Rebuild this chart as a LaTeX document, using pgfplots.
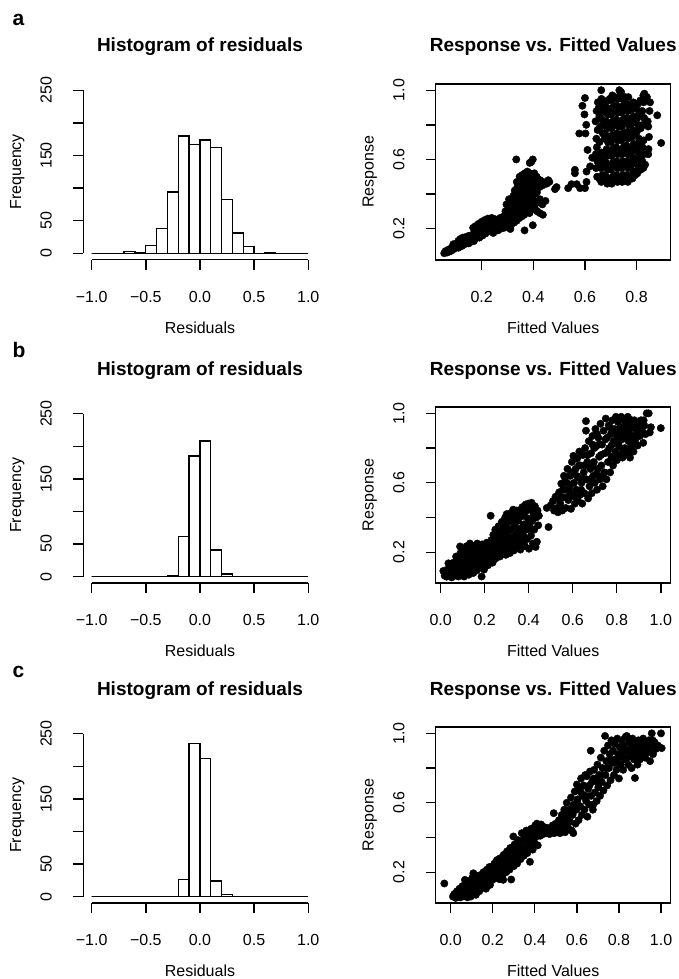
\documentclass[border=0pt]{standalone}
\usepackage{graphicx}
\usepackage{pgfplots}
\pgfplotsset{compat=1.18}
\usepackage{fontspec}
\setmainfont{Liberation Sans}

\newcommand{\up}[1]{\rotatebox{90}{#1}}

\pgfplotsset{
  rbase/.style={
    scale only axis, anchor=south west,
    tick align=outside, major tick length=10pt,
    every tick/.style={black, line width=1.4pt},
    xtick pos=bottom, ytick pos=left,
    /pgf/number format/assume math mode=true,
    tick label style={font=\fontsize{16}{19}\selectfont},
    xticklabel style={anchor=north, inner sep=0pt, yshift=-21pt},
    yticklabel style={anchor=east, inner sep=0pt, xshift=-21pt},
    every axis title/.style={at={(axis description cs:0.5,1)}, anchor=base,
      yshift=32pt, font=\bfseries\fontsize{19}{23}\selectfont},
    every axis x label/.style={at={(axis description cs:0.5,0)}, anchor=base,
      yshift=-73.7pt, font=\fontsize{16}{19}\selectfont},
    every axis y label/.style={at={(axis description cs:#1,0.5)}, rotate=90,
      anchor=base, font=\fontsize{16}{19}\selectfont},
  },
  histax/.style={
    rbase=-0.265,
    width=233.9pt, height=176pt,
    xmin=-1.08, xmax=1.08, ymin=-10, ymax=260,
    axis line style={draw=none},
    xtick={-1,-0.5,0,0.5,1},
    xticklabels={−1.0,−0.5,0.0,0.5,1.0},
    ytick={0,50,100,150,200,250},
    yticklabels={\up{0},\up{50},{},\up{150},{},\up{250}},
    title={Histogram of residuals},
    xlabel={Residuals}, ylabel={Frequency},
  },
  scatax/.style={
    rbase=-0.2638,
    width=235pt, height=176pt,
    axis line style={line width=1.4pt},
    ytick={0.2,0.4,0.6,0.8,1.0},
    yticklabels={\up{0.2},{},\up{0.6},{},\up{1.0}},
    title={Response vs. Fitted Values},
    xlabel={Fitted Values}, ylabel={Response},
  },
  bars/.style={ybar interval, fill=white, draw=black, line width=1.3pt},
  dots/.style={only marks, mark=*, mark size=3.7pt, black,
    mark options={line width=0.4pt, fill=black}},
}

\newcommand{\rlines}{%
  \draw[line width=1.4pt] (axis cs:-1,-10) -- (axis cs:1,-10);
  \draw[line width=1.4pt] (axis cs:-1.08,0) -- (axis cs:-1.08,250);}

\begin{document}
\begin{tikzpicture}
\path[use as bounding box] (0pt,0pt) rectangle (679pt,-979pt);

% panel letters
\node[anchor=base west, inner sep=0pt, font=\bfseries\fontsize{21}{25}\selectfont] at (12.5pt,-25.5pt) {a};
\node[anchor=base west, inner sep=0pt, font=\bfseries\fontsize{21}{25}\selectfont] at (12.5pt,-357pt) {b};
\node[anchor=base west, inner sep=0pt, font=\bfseries\fontsize{21}{25}\selectfont] at (12.5pt,-677pt) {c};

% ---------------- row a ----------------
\begin{axis}[histax, at={(83pt,-259.8pt)}]
\addplot[bars] coordinates {
(-1.0,0) (-0.9,0) (-0.8,0) (-0.7,3) (-0.6,1) (-0.5,12) (-0.4,38) (-0.3,94)
(-0.2,180) (-0.1,167) (0.0,174) (0.1,162) (0.2,82) (0.3,31) (0.4,10)
(0.5,0) (0.6,1) (0.7,0) (0.8,0) (0.9,0) (1.0,0)};
\rlines
\end{axis}

\begin{axis}[scatax, at={(435.7pt,-259.8pt)},
  xmin=0.022, xmax=0.932, ymin=0.02, ymax=1.037,
  xtick={0.2,0.4,0.6,0.8}, xticklabels={0.2,0.4,0.6,0.8}]
\addplot[dots] coordinates {
(0.055,0.058)(0.060,0.070)(0.066,0.062)(0.070,0.078)(0.076,0.068)(0.080,0.085)(0.084,0.074)(0.088,0.095)
(0.092,0.082)(0.096,0.104)(0.100,0.090)(0.104,0.115)(0.106,0.098)(0.110,0.130)(0.113,0.108)(0.117,0.140)
(0.120,0.118)(0.124,0.100)(0.127,0.148)(0.130,0.126)(0.134,0.110)(0.138,0.152)(0.141,0.132)(0.145,0.118)
(0.149,0.158)(0.152,0.138)(0.156,0.122)(0.160,0.162)(0.163,0.145)(0.167,0.205)(0.170,0.128)(0.172,0.180)
(0.176,0.215)(0.178,0.155)(0.182,0.195)(0.185,0.170)(0.188,0.228)(0.191,0.148)(0.194,0.205)(0.197,0.180)
(0.200,0.240)(0.203,0.160)(0.206,0.218)(0.209,0.195)(0.212,0.250)(0.215,0.172)(0.218,0.232)(0.221,0.205)
(0.224,0.258)(0.227,0.185)(0.230,0.222)(0.233,0.245)(0.236,0.198)(0.239,0.262)(0.242,0.215)(0.245,0.175)
(0.248,0.235)(0.251,0.255)(0.254,0.200)(0.257,0.225)(0.260,0.248)(0.263,0.190)(0.266,0.238)(0.269,0.212)
(0.272,0.262)(0.275,0.200)(0.278,0.245)(0.281,0.225)(0.284,0.270)(0.287,0.205)(0.290,0.255)(0.293,0.232)
(0.296,0.285)(0.299,0.215)(0.302,0.262)(0.305,0.240)(0.308,0.300)(0.311,0.198)(0.314,0.275)(0.317,0.250)
(0.090,0.110)(0.110,0.090)(0.130,0.145)(0.150,0.115)(0.170,0.150)(0.190,0.170)(0.210,0.225)(0.230,0.200)
(0.250,0.230)(0.270,0.235)(0.290,0.220)(0.310,0.230)(0.200,0.200)(0.240,0.240)(0.280,0.250)
(0.292,0.300)(0.296,0.340)(0.302,0.310)(0.306,0.370)(0.300,0.280)
(0.315,0.225)(0.316,0.290)(0.318,0.330)(0.314,0.360)
(0.325,0.235)(0.326,0.270)(0.324,0.310)(0.327,0.350)(0.323,0.390)(0.328,0.420)
(0.335,0.245)(0.336,0.280)(0.334,0.320)(0.337,0.360)(0.333,0.400)(0.338,0.440)(0.336,0.470)(0.334,0.600)
(0.345,0.260)(0.344,0.300)(0.347,0.340)(0.343,0.380)(0.346,0.420)(0.344,0.460)(0.347,0.500)
(0.355,0.270)(0.354,0.310)(0.357,0.350)(0.353,0.390)(0.356,0.430)(0.354,0.470)(0.357,0.510)
(0.366,0.190)(0.365,0.280)(0.364,0.320)(0.367,0.360)(0.363,0.400)(0.366,0.440)(0.364,0.480)(0.367,0.520)
(0.375,0.300)(0.374,0.340)(0.377,0.380)(0.373,0.420)(0.376,0.460)(0.374,0.500)(0.377,0.530)
(0.386,0.580)(0.385,0.290)(0.384,0.330)(0.387,0.370)(0.383,0.410)(0.386,0.450)(0.384,0.490)(0.387,0.520)
(0.398,0.600)(0.398,0.220)(0.395,0.310)(0.394,0.350)(0.397,0.390)(0.393,0.430)(0.396,0.470)(0.394,0.510)(0.392,0.585)
(0.405,0.320)(0.404,0.360)(0.407,0.400)(0.403,0.440)(0.406,0.480)(0.404,0.520)
(0.415,0.300)(0.416,0.350)(0.414,0.410)(0.417,0.460)(0.413,0.500)
(0.425,0.290)(0.426,0.370)(0.424,0.440)(0.427,0.480)
(0.437,0.280)(0.435,0.340)(0.436,0.450)(0.438,0.470)
(0.447,0.360)(0.452,0.460)(0.458,0.480)(0.462,0.470)
(0.484,0.428)(0.490,0.440)(0.535,0.434)(0.548,0.457)(0.568,0.457)(0.581,0.434)(0.600,0.434)
(0.561,0.540)(0.561,0.520)(0.606,0.530)(0.606,0.470)
(0.590,0.910)(0.600,0.955)(0.598,0.860)(0.605,0.800)(0.578,0.750)(0.602,0.750)(0.610,0.655)(0.620,0.560)(0.628,0.610)
(0.647,0.500)(0.643,0.550)(0.648,0.590)(0.642,0.630)(0.646,0.670)(0.644,0.720)(0.649,0.770)(0.641,0.820)(0.645,0.880)(0.650,0.930)
(0.663,0.470)(0.668,0.510)(0.662,0.550)(0.667,0.600)(0.664,0.640)(0.669,0.750)(0.661,0.790)(0.666,0.830)(0.663,0.870)(0.668,0.910)(0.664,0.950)(0.663,1.000)
(0.686,0.460)(0.683,0.500)(0.688,0.540)(0.682,0.580)(0.687,0.620)(0.684,0.660)(0.689,0.700)(0.681,0.740)(0.686,0.780)(0.683,0.820)(0.688,0.860)(0.684,0.900)(0.687,0.940)
(0.704,0.460)(0.708,0.500)(0.702,0.540)(0.707,0.580)(0.703,0.620)(0.709,0.660)(0.701,0.700)(0.706,0.740)(0.703,0.780)(0.708,0.820)(0.702,0.860)(0.707,0.900)(0.704,0.940)(0.706,0.970)
(0.726,0.470)(0.722,0.510)(0.728,0.550)(0.723,0.590)(0.727,0.630)(0.721,0.670)(0.726,0.710)(0.724,0.750)(0.729,0.790)(0.722,0.830)(0.727,0.870)(0.723,0.910)(0.728,0.950)(0.733,1.000)
(0.744,0.470)(0.748,0.510)(0.742,0.550)(0.747,0.590)(0.743,0.630)(0.749,0.670)(0.741,0.710)(0.746,0.750)(0.743,0.790)(0.748,0.830)(0.742,0.870)(0.747,0.910)(0.744,0.950)(0.740,0.990)
(0.766,0.470)(0.762,0.510)(0.768,0.550)(0.763,0.590)(0.767,0.630)(0.761,0.680)(0.766,0.720)(0.764,0.760)(0.769,0.800)(0.762,0.840)(0.767,0.880)(0.763,0.920)(0.768,0.960)
(0.784,0.490)(0.788,0.530)(0.782,0.570)(0.787,0.610)(0.783,0.650)(0.789,0.690)(0.781,0.730)(0.786,0.770)(0.783,0.810)(0.788,0.850)(0.782,0.890)(0.787,0.930)
(0.803,0.520)(0.808,0.560)(0.802,0.600)(0.807,0.640)(0.804,0.680)(0.809,0.720)(0.801,0.760)(0.806,0.800)(0.803,0.840)(0.808,0.880)(0.804,0.920)
(0.826,0.550)(0.822,0.590)(0.828,0.630)(0.823,0.670)(0.827,0.710)(0.824,0.800)(0.829,0.840)(0.822,0.880)(0.827,0.930)(0.826,0.970)
(0.845,0.630)(0.848,0.730)(0.845,0.790)(0.843,0.820)(0.850,0.880)(0.852,0.930)(0.840,0.960)(0.895,0.695)(0.880,0.855)
(0.833,0.570)(0.798,0.530)(0.772,0.500)(0.830,0.980)(0.846,0.660)
(0.655,0.490)(0.655,0.570)(0.655,0.620)(0.656,0.700)(0.655,0.780)(0.656,0.850)(0.654,0.900)
(0.675,0.480)(0.676,0.560)(0.674,0.640)(0.676,0.720)(0.675,0.800)(0.674,0.880)(0.676,0.930)
(0.695,0.480)(0.696,0.560)(0.694,0.640)(0.696,0.720)(0.695,0.800)(0.694,0.880)(0.696,0.950)
(0.715,0.490)(0.716,0.570)(0.714,0.650)(0.716,0.730)(0.715,0.810)(0.714,0.890)(0.716,0.960)
(0.735,0.490)(0.736,0.570)(0.734,0.650)(0.736,0.730)(0.735,0.810)(0.734,0.890)(0.736,0.970)
(0.755,0.490)(0.756,0.570)(0.754,0.650)(0.756,0.740)(0.755,0.820)(0.754,0.900)(0.756,0.960)
(0.775,0.490)(0.776,0.580)(0.774,0.660)(0.776,0.740)(0.775,0.830)(0.774,0.910)
(0.795,0.510)(0.796,0.590)(0.794,0.670)(0.796,0.750)(0.795,0.830)(0.794,0.900)
(0.815,0.540)(0.816,0.620)(0.814,0.700)(0.816,0.780)(0.815,0.860)(0.814,0.940)};
\end{axis}

% ---------------- row b ----------------
\begin{axis}[histax, at={(83pt,-583.1pt)}]
\addplot[bars] coordinates {
(-1.0,0) (-0.9,0) (-0.8,0) (-0.7,0) (-0.6,0) (-0.5,0) (-0.4,0) (-0.3,1)
(-0.2,61) (-0.1,185) (0.0,208) (0.1,41) (0.2,4) (0.3,0) (0.4,0)
(0.5,0) (0.6,0) (0.7,0) (0.8,0) (0.9,0) (1.0,0)};
\rlines
\end{axis}

\begin{axis}[scatax, at={(435.7pt,-583.1pt)},
  xmin=-0.0227, xmax=1.045, ymin=0.022, ymax=1.036,
  xtick={0,0.2,0.4,0.6,0.8,1.0}, xticklabels={0.0,0.2,0.4,0.6,0.8,1.0}]
\addplot[dots] coordinates {
(0.012,0.092)(0.018,0.065)(0.027,0.059)(0.030,0.100)(0.035,0.136)(0.042,0.075)(0.046,0.112)(0.050,0.055)
(0.055,0.090)(0.058,0.140)(0.063,0.065)(0.066,0.118)(0.070,0.175)(0.074,0.092)(0.078,0.150)(0.080,0.060)
(0.084,0.125)(0.088,0.233)(0.090,0.195)(0.093,0.085)(0.097,0.160)(0.100,0.110)(0.103,0.215)(0.106,0.060)
(0.109,0.140)(0.112,0.182)(0.115,0.095)(0.118,0.235)(0.121,0.125)(0.124,0.200)(0.127,0.070)(0.130,0.165)
(0.133,0.250)(0.136,0.105)(0.139,0.220)(0.142,0.140)(0.145,0.185)(0.148,0.080)(0.151,0.235)(0.154,0.120)
(0.157,0.160)(0.160,0.205)(0.163,0.095)(0.166,0.250)(0.169,0.140)(0.172,0.180)(0.175,0.225)(0.178,0.110)
(0.182,0.160)(0.186,0.060)(0.188,0.245)(0.191,0.200)(0.194,0.130)(0.197,0.100)(0.200,0.175)(0.203,0.230)
(0.206,0.150)(0.209,0.255)(0.212,0.205)(0.215,0.125)(0.218,0.180)(0.221,0.240)(0.224,0.160)(0.227,0.410)
(0.230,0.270)(0.233,0.210)(0.236,0.140)(0.239,0.300)(0.242,0.185)(0.245,0.250)(0.248,0.330)(0.251,0.165)
(0.254,0.225)(0.257,0.285)(0.260,0.195)(0.263,0.350)(0.266,0.260)(0.269,0.175)(0.272,0.310)(0.275,0.230)
(0.278,0.375)(0.281,0.200)(0.284,0.280)(0.287,0.340)(0.290,0.250)(0.293,0.400)(0.296,0.185)(0.299,0.305)
(0.302,0.220)(0.305,0.370)(0.308,0.270)(0.311,0.420)(0.314,0.195)(0.317,0.330)(0.320,0.240)(0.323,0.395)
(0.326,0.290)(0.329,0.445)(0.332,0.210)(0.335,0.350)(0.338,0.260)(0.341,0.415)(0.344,0.310)(0.347,0.230)
(0.350,0.380)(0.353,0.440)(0.356,0.280)(0.359,0.335)(0.362,0.215)(0.365,0.405)(0.368,0.255)(0.371,0.460)
(0.374,0.300)(0.377,0.360)(0.380,0.430)(0.383,0.235)(0.386,0.475)(0.389,0.330)(0.392,0.275)(0.395,0.395)
(0.398,0.480)(0.401,0.220)(0.404,0.350)(0.407,0.445)(0.410,0.295)(0.413,0.485)(0.416,0.380)(0.419,0.250)
(0.422,0.420)(0.425,0.330)(0.428,0.465)(0.431,0.230)(0.434,0.400)(0.437,0.260)(0.440,0.440)(0.443,0.355)
(0.446,0.410)
(0.060,0.105)(0.075,0.130)(0.095,0.180)(0.110,0.085)(0.125,0.150)(0.140,0.195)(0.150,0.110)(0.165,0.175)
(0.180,0.215)(0.195,0.155)(0.210,0.230)(0.222,0.190)(0.240,0.220)(0.255,0.270)(0.268,0.215)(0.280,0.300)
(0.292,0.260)(0.305,0.330)(0.318,0.280)(0.330,0.380)(0.342,0.240)(0.355,0.400)(0.366,0.330)(0.378,0.280)
(0.390,0.440)(0.402,0.380)(0.415,0.330)(0.428,0.400)(0.300,0.420)(0.370,0.230)(0.345,0.440)(0.260,0.320)
(0.490,0.345)(0.482,0.455)(0.500,0.470)(0.510,0.495)(0.515,0.440)(0.522,0.520)(0.528,0.455)(0.533,0.430)
(0.538,0.545)(0.543,0.480)(0.548,0.595)(0.552,0.440)(0.556,0.515)(0.560,0.640)(0.564,0.560)(0.568,0.455)
(0.572,0.600)(0.576,0.680)(0.580,0.500)(0.584,0.560)(0.588,0.640)(0.592,0.450)(0.596,0.720)(0.600,0.530)
(0.603,0.755)(0.606,0.600)(0.610,0.480)(0.613,0.680)(0.616,0.560)(0.620,0.740)(0.623,0.500)(0.626,0.630)
(0.630,0.780)(0.633,0.530)(0.636,0.700)(0.640,0.600)(0.643,0.480)(0.646,0.760)(0.650,0.660)(0.653,0.540)
(0.656,0.800)(0.660,0.955)(0.660,0.900)(0.663,0.620)(0.666,0.720)(0.670,0.510)(0.673,0.840)(0.676,0.580)
(0.680,0.680)(0.683,0.770)(0.686,0.540)(0.690,0.870)(0.693,0.640)(0.696,0.720)(0.700,0.600)(0.703,0.910)
(0.706,0.810)(0.710,0.560)(0.713,0.680)(0.716,0.860)(0.720,0.750)(0.723,0.620)(0.726,0.940)(0.730,0.700)
(0.733,0.820)(0.736,0.580)(0.740,0.900)(0.743,0.660)(0.746,0.770)(0.750,0.970)(0.753,0.620)(0.756,0.860)
(0.760,0.720)(0.763,0.930)(0.766,0.800)(0.770,0.660)(0.773,0.880)(0.776,0.750)(0.780,0.960)(0.783,0.700)
(0.786,0.840)(0.790,0.910)(0.793,0.780)(0.796,0.980)(0.800,0.730)(0.803,0.870)(0.806,0.950)(0.810,0.810)
(0.813,0.760)(0.816,0.920)(0.820,0.980)(0.823,0.850)(0.826,0.745)(0.830,0.900)(0.833,0.960)(0.836,0.800)
(0.840,0.870)(0.843,0.930)(0.846,0.770)(0.850,0.980)(0.853,0.840)(0.856,0.900)(0.860,0.745)(0.863,0.950)
(0.866,0.810)(0.870,0.870)(0.873,0.920)(0.876,0.780)(0.880,0.960)(0.885,0.850)(0.890,0.900)(0.895,0.815)
(0.900,0.940)(0.905,0.870)(0.910,0.960)(0.915,0.900)(0.920,0.830)(0.925,0.930)(0.930,0.880)(0.936,1.000)
(0.945,1.000)(0.950,0.890)(0.955,0.920)(1.000,0.915)
(0.540,0.500)(0.555,0.560)(0.565,0.610)(0.578,0.520)(0.590,0.590)(0.598,0.660)(0.608,0.520)(0.618,0.640)
(0.628,0.700)(0.638,0.560)(0.648,0.620)(0.658,0.700)(0.668,0.760)(0.678,0.620)(0.688,0.700)(0.698,0.800)
(0.708,0.650)(0.718,0.820)(0.728,0.760)(0.738,0.640)(0.748,0.850)(0.758,0.780)(0.768,0.920)(0.778,0.820)
(0.788,0.740)(0.798,0.900)(0.808,0.830)(0.818,0.880)(0.828,0.790)(0.838,0.930)(0.848,0.860)(0.858,0.780)
(0.868,0.960)(0.878,0.840)(0.888,0.940)(0.898,0.880)(0.910,0.920)(0.922,0.960)(0.710,0.880)(0.690,0.820)};
\end{axis}

% ---------------- row c ----------------
\begin{axis}[histax, at={(83pt,-903.1pt)}]
\addplot[bars] coordinates {
(-1.0,0) (-0.9,0) (-0.8,0) (-0.7,0) (-0.6,0) (-0.5,0) (-0.4,0) (-0.3,0)
(-0.2,26) (-0.1,235) (0.0,212) (0.1,24) (0.2,3) (0.3,0) (0.4,0)
(0.5,0) (0.6,0) (0.7,0) (0.8,0) (0.9,0) (1.0,0)};
\rlines
\end{axis}

\begin{axis}[scatax, at={(435.7pt,-903.1pt)},
  xmin=-0.071, xmax=1.046, ymin=0.022, ymax=1.036,
  xtick={0,0.2,0.4,0.6,0.8,1.0}, xticklabels={0.0,0.2,0.4,0.6,0.8,1.0}]
\addplot[dots] coordinates {
(-0.030,0.135)(0.011,0.060)(0.018,0.075)(0.024,0.052)(0.030,0.090)(0.036,0.065)(0.042,0.105)(0.047,0.055)
(0.052,0.080)(0.056,0.120)(0.060,0.062)(0.064,0.100)(0.068,0.156)(0.072,0.075)(0.076,0.130)(0.080,0.055)
(0.084,0.110)(0.088,0.150)(0.092,0.085)(0.096,0.060)(0.100,0.125)(0.104,0.170)(0.108,0.194)(0.112,0.095)
(0.116,0.140)(0.120,0.070)(0.124,0.180)(0.128,0.115)(0.132,0.155)(0.136,0.090)(0.140,0.135)(0.144,0.185)
(0.148,0.110)(0.152,0.160)(0.156,0.200)(0.160,0.130)(0.164,0.175)(0.168,0.105)(0.172,0.215)(0.176,0.150)
(0.180,0.190)(0.184,0.230)(0.187,0.127)(0.190,0.170)(0.194,0.210)(0.198,0.155)(0.200,0.233)(0.204,0.185)
(0.208,0.250)(0.212,0.165)(0.216,0.215)(0.220,0.270)(0.224,0.190)(0.228,0.240)(0.232,0.160)(0.235,0.280)
(0.238,0.215)(0.242,0.255)(0.246,0.180)(0.250,0.156)(0.252,0.300)(0.256,0.235)(0.260,0.275)(0.264,0.200)
(0.268,0.320)(0.272,0.250)(0.276,0.295)(0.280,0.215)(0.284,0.340)(0.288,0.158)(0.290,0.270)(0.294,0.310)
(0.298,0.406)(0.300,0.235)(0.304,0.360)(0.308,0.285)(0.312,0.330)(0.316,0.250)(0.320,0.385)(0.324,0.300)
(0.328,0.350)(0.332,0.275)(0.338,0.425)(0.340,0.320)(0.344,0.380)(0.348,0.295)(0.352,0.405)(0.356,0.340)
(0.360,0.440)(0.364,0.310)(0.368,0.375)(0.372,0.415)(0.377,0.260)(0.378,0.345)(0.382,0.450)(0.386,0.390)
(0.390,0.330)(0.394,0.430)(0.398,0.370)(0.402,0.470)(0.406,0.405)(0.410,0.480)(0.414,0.355)(0.418,0.440)
(0.422,0.460)(0.426,0.410)(0.430,0.475)(0.435,0.440)(0.440,0.420)(0.445,0.460)(0.450,0.440)(0.455,0.425)
(0.460,0.455)(0.465,0.435)(0.470,0.420)(0.475,0.450)(0.480,0.430)(0.485,0.470)(0.490,0.540)(0.492,0.425)
(0.496,0.450)(0.500,0.480)(0.505,0.430)(0.510,0.460)(0.515,0.500)(0.520,0.425)(0.524,0.470)(0.528,0.530)
(0.532,0.445)(0.536,0.500)(0.540,0.560)(0.544,0.430)(0.548,0.475)(0.552,0.600)(0.556,0.520)(0.560,0.450)
(0.564,0.560)(0.568,0.490)(0.572,0.630)(0.576,0.440)(0.580,0.530)(0.583,0.425)(0.586,0.590)(0.590,0.665)
(0.594,0.480)(0.598,0.560)(0.600,0.705)(0.604,0.620)(0.608,0.500)(0.612,0.680)(0.616,0.580)(0.620,0.740)
(0.624,0.530)(0.628,0.640)(0.632,0.700)(0.636,0.560)(0.640,0.760)(0.644,0.610)(0.647,0.753)(0.650,0.520)
(0.654,0.680)(0.658,0.590)(0.662,0.780)(0.666,0.900)(0.668,0.640)(0.672,0.720)(0.676,0.560)(0.678,0.590)
(0.682,0.790)(0.686,0.660)(0.690,0.740)(0.694,0.610)(0.698,0.820)(0.702,0.690)(0.706,0.760)(0.710,0.640)
(0.714,0.860)(0.718,0.720)(0.722,0.800)(0.726,0.670)(0.730,0.900)(0.734,0.985)(0.736,0.760)(0.740,0.840)
(0.744,0.700)(0.748,0.930)(0.752,0.800)(0.756,0.880)(0.760,0.730)(0.764,0.960)(0.768,0.830)(0.772,0.900)
(0.776,0.760)(0.780,0.940)(0.784,0.850)(0.788,0.790)(0.792,0.970)(0.796,0.880)(0.800,0.740)(0.804,0.920)
(0.808,0.820)(0.812,0.960)(0.816,0.870)(0.820,0.790)(0.824,0.930)(0.828,0.850)(0.832,0.980)(0.837,0.985)
(0.840,0.900)(0.844,0.820)(0.848,0.950)(0.852,0.870)(0.856,0.910)(0.860,0.800)(0.864,0.970)(0.868,0.898)
(0.872,0.850)(0.876,0.743)(0.880,0.940)(0.884,0.880)(0.888,0.820)(0.892,0.960)(0.896,0.900)(0.900,0.850)
(0.905,0.930)(0.910,0.880)(0.915,0.970)(0.920,0.910)(0.925,0.860)(0.930,0.940)(0.936,0.890)(0.942,0.960)
(0.948,0.840)(0.952,0.920)(0.956,1.000)(0.962,0.880)(0.968,0.950)(0.975,0.910)(0.985,0.930)(1.000,1.000)
(1.003,0.915)
(0.040,0.080)(0.070,0.100)(0.090,0.130)(0.110,0.150)(0.130,0.130)(0.150,0.180)(0.170,0.160)(0.190,0.200)
(0.210,0.230)(0.230,0.220)(0.250,0.260)(0.270,0.280)(0.290,0.300)(0.310,0.300)(0.330,0.320)(0.350,0.380)
(0.370,0.370)(0.390,0.410)(0.410,0.420)(0.430,0.450)(0.455,0.455)(0.475,0.440)(0.500,0.450)(0.520,0.490)
(0.540,0.470)(0.560,0.530)(0.580,0.570)(0.600,0.600)(0.620,0.660)(0.640,0.640)(0.660,0.700)(0.680,0.740)
(0.700,0.720)(0.720,0.760)(0.740,0.800)(0.760,0.850)(0.780,0.830)(0.800,0.860)(0.820,0.900)(0.840,0.860)
(0.860,0.930)(0.880,0.910)(0.900,0.950)(0.920,0.880)(0.940,0.920)(0.960,0.960)};
\end{axis}
\end{tikzpicture}
\end{document}
